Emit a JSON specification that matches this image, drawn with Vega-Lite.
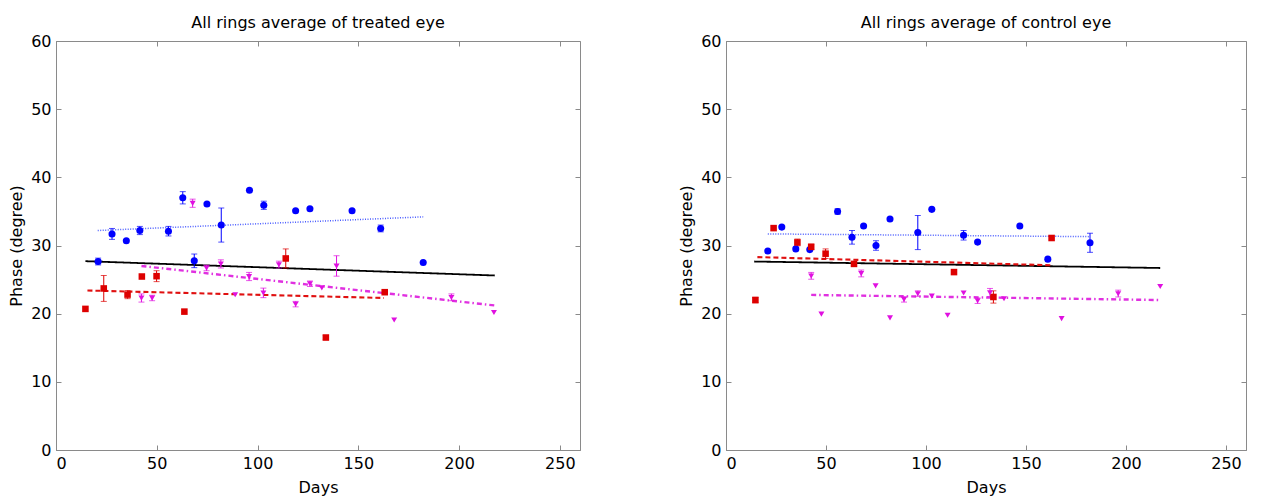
{
  "$schema": "https://vega.github.io/schema/vega-lite/v6.json",
  "background": "white",
  "padding": {"left": 8, "top": 14, "right": 20, "bottom": 2},
  "spacing": 97,
  "config": {
    "font": "DejaVu Sans",
    "view": {"stroke": "#8a8a8a", "strokeWidth": 1},
    "axis": {"grid": false, "domainColor": "#8a8a8a", "tickColor": "#8a8a8a", "tickSize": -5, "labelPadding": 10, "labelFontSize": 16, "labelColor": "black", "titleFontSize": 16, "titleFontWeight": "normal", "titleColor": "black", "labelFont": "DejaVu Sans", "titleFont": "DejaVu Sans"},
    "title": {"fontSize": 16, "fontWeight": "normal", "font": "DejaVu Sans", "color": "black", "offset": 2}
  },
  "datasets": {
    "pts": [
      {"panel": "T", "g": "B", "day": 20.9, "phase": 27.65, "lo": 27.15, "hi": 28.15},
      {"panel": "T", "g": "B", "day": 27.8, "phase": 31.7, "lo": 30.9, "hi": 32.5},
      {"panel": "T", "g": "B", "day": 34.9, "phase": 30.7, "lo": null, "hi": null},
      {"panel": "T", "g": "B", "day": 41.6, "phase": 32.2, "lo": 31.6, "hi": 32.8},
      {"panel": "T", "g": "B", "day": 55.8, "phase": 32.1, "lo": 31.4, "hi": 32.8},
      {"panel": "T", "g": "B", "day": 62.9, "phase": 37.0, "lo": 36.1, "hi": 37.9},
      {"panel": "T", "g": "B", "day": 68.6, "phase": 27.75, "lo": 26.75, "hi": 28.75},
      {"panel": "T", "g": "B", "day": 74.9, "phase": 36.1, "lo": null, "hi": null},
      {"panel": "T", "g": "B", "day": 82.0, "phase": 33.0, "lo": 30.5, "hi": 35.5},
      {"panel": "T", "g": "B", "day": 96.0, "phase": 38.1, "lo": null, "hi": null},
      {"panel": "T", "g": "B", "day": 103.1, "phase": 35.9, "lo": 35.3, "hi": 36.5},
      {"panel": "T", "g": "B", "day": 118.9, "phase": 35.1, "lo": null, "hi": null},
      {"panel": "T", "g": "B", "day": 126.0, "phase": 35.4, "lo": null, "hi": null},
      {"panel": "T", "g": "B", "day": 146.9, "phase": 35.1, "lo": null, "hi": null},
      {"panel": "T", "g": "B", "day": 161.1, "phase": 32.5, "lo": 32.0, "hi": 33.0},
      {"panel": "T", "g": "B", "day": 182.2, "phase": 27.5, "lo": null, "hi": null},
      {"panel": "T", "g": "R", "day": 14.6, "phase": 20.7, "lo": null, "hi": null},
      {"panel": "T", "g": "R", "day": 23.7, "phase": 23.7, "lo": 21.8, "hi": 25.6},
      {"panel": "T", "g": "R", "day": 35.5, "phase": 22.8, "lo": 22.2, "hi": 23.4},
      {"panel": "T", "g": "R", "day": 42.6, "phase": 25.45, "lo": null, "hi": null},
      {"panel": "T", "g": "R", "day": 49.9, "phase": 25.5, "lo": 24.7, "hi": 26.3},
      {"panel": "T", "g": "R", "day": 63.7, "phase": 20.3, "lo": null, "hi": null},
      {"panel": "T", "g": "R", "day": 114.0, "phase": 28.1, "lo": 26.7, "hi": 29.5},
      {"panel": "T", "g": "R", "day": 133.9, "phase": 16.5, "lo": 16.2, "hi": 16.8},
      {"panel": "T", "g": "R", "day": 163.1, "phase": 23.15, "lo": null, "hi": null},
      {"panel": "T", "g": "M", "day": 42.4, "phase": 22.3, "lo": 21.7, "hi": 22.9},
      {"panel": "T", "g": "M", "day": 47.7, "phase": 22.3, "lo": 21.9, "hi": 22.7},
      {"panel": "T", "g": "M", "day": 67.8, "phase": 36.2, "lo": 35.6, "hi": 36.8},
      {"panel": "T", "g": "M", "day": 74.7, "phase": 26.7, "lo": 26.3, "hi": 27.1},
      {"panel": "T", "g": "M", "day": 81.8, "phase": 27.3, "lo": 26.7, "hi": 27.9},
      {"panel": "T", "g": "M", "day": 88.9, "phase": 22.8, "lo": null, "hi": null},
      {"panel": "T", "g": "M", "day": 95.8, "phase": 25.45, "lo": 24.85, "hi": 26.05},
      {"panel": "T", "g": "M", "day": 102.9, "phase": 23.05, "lo": 22.35, "hi": 23.75},
      {"panel": "T", "g": "M", "day": 110.6, "phase": 27.2, "lo": 26.7, "hi": 27.7},
      {"panel": "T", "g": "M", "day": 118.9, "phase": 21.4, "lo": 21.0, "hi": 21.8},
      {"panel": "T", "g": "M", "day": 126.0, "phase": 24.4, "lo": 24.0, "hi": 24.8},
      {"panel": "T", "g": "M", "day": 131.9, "phase": 23.8, "lo": null, "hi": null},
      {"panel": "T", "g": "M", "day": 139.2, "phase": 27.0, "lo": 25.5, "hi": 28.5},
      {"panel": "T", "g": "M", "day": 167.8, "phase": 19.1, "lo": null, "hi": null},
      {"panel": "T", "g": "M", "day": 196.2, "phase": 22.4, "lo": 21.9, "hi": 22.9},
      {"panel": "T", "g": "M", "day": 217.3, "phase": 20.2, "lo": null, "hi": null},
      {"panel": "C", "g": "B", "day": 20.9, "phase": 29.2, "lo": null, "hi": null},
      {"panel": "C", "g": "B", "day": 27.9, "phase": 32.7, "lo": null, "hi": null},
      {"panel": "C", "g": "B", "day": 34.9, "phase": 29.5, "lo": null, "hi": null},
      {"panel": "C", "g": "B", "day": 41.9, "phase": 29.4, "lo": null, "hi": null},
      {"panel": "C", "g": "B", "day": 55.8, "phase": 35.0, "lo": 34.6, "hi": 35.4},
      {"panel": "C", "g": "B", "day": 63.0, "phase": 31.2, "lo": 30.2, "hi": 32.2},
      {"panel": "C", "g": "B", "day": 68.8, "phase": 32.85, "lo": null, "hi": null},
      {"panel": "C", "g": "B", "day": 75.0, "phase": 30.0, "lo": 29.3, "hi": 30.7},
      {"panel": "C", "g": "B", "day": 82.0, "phase": 33.9, "lo": null, "hi": null},
      {"panel": "C", "g": "B", "day": 95.9, "phase": 31.9, "lo": 29.4, "hi": 34.4},
      {"panel": "C", "g": "B", "day": 102.9, "phase": 35.3, "lo": null, "hi": null},
      {"panel": "C", "g": "B", "day": 118.8, "phase": 31.5, "lo": 30.8, "hi": 32.2},
      {"panel": "C", "g": "B", "day": 125.8, "phase": 30.5, "lo": null, "hi": null},
      {"panel": "C", "g": "B", "day": 146.9, "phase": 32.85, "lo": null, "hi": null},
      {"panel": "C", "g": "B", "day": 160.9, "phase": 28.0, "lo": null, "hi": null},
      {"panel": "C", "g": "B", "day": 182.0, "phase": 30.4, "lo": 29.0, "hi": 31.8},
      {"panel": "C", "g": "R", "day": 14.7, "phase": 22.0, "lo": 21.6, "hi": 22.4},
      {"panel": "C", "g": "R", "day": 23.8, "phase": 32.55, "lo": null, "hi": null},
      {"panel": "C", "g": "R", "day": 35.7, "phase": 30.45, "lo": 29.95, "hi": 30.95},
      {"panel": "C", "g": "R", "day": 42.6, "phase": 29.8, "lo": 29.4, "hi": 30.2},
      {"panel": "C", "g": "R", "day": 49.8, "phase": 28.8, "lo": 28.1, "hi": 29.5},
      {"panel": "C", "g": "R", "day": 64.0, "phase": 27.3, "lo": 27.0, "hi": 27.6},
      {"panel": "C", "g": "R", "day": 114.0, "phase": 26.1, "lo": null, "hi": null},
      {"panel": "C", "g": "R", "day": 133.7, "phase": 22.45, "lo": 21.55, "hi": 23.35},
      {"panel": "C", "g": "R", "day": 162.8, "phase": 31.1, "lo": null, "hi": null},
      {"panel": "C", "g": "M", "day": 42.6, "phase": 25.55, "lo": 25.05, "hi": 26.05},
      {"panel": "C", "g": "M", "day": 47.7, "phase": 19.95, "lo": null, "hi": null},
      {"panel": "C", "g": "M", "day": 67.6, "phase": 25.9, "lo": 25.4, "hi": 26.4},
      {"panel": "C", "g": "M", "day": 74.8, "phase": 24.1, "lo": null, "hi": null},
      {"panel": "C", "g": "M", "day": 82.0, "phase": 19.4, "lo": null, "hi": null},
      {"panel": "C", "g": "M", "day": 89.0, "phase": 22.1, "lo": 21.7, "hi": 22.5},
      {"panel": "C", "g": "M", "day": 95.9, "phase": 22.95, "lo": 22.55, "hi": 23.35},
      {"panel": "C", "g": "M", "day": 102.9, "phase": 22.6, "lo": null, "hi": null},
      {"panel": "C", "g": "M", "day": 110.8, "phase": 19.8, "lo": null, "hi": null},
      {"panel": "C", "g": "M", "day": 118.8, "phase": 23.05, "lo": null, "hi": null},
      {"panel": "C", "g": "M", "day": 125.8, "phase": 21.9, "lo": 21.5, "hi": 22.3},
      {"panel": "C", "g": "M", "day": 132.0, "phase": 23.1, "lo": 22.5, "hi": 23.7},
      {"panel": "C", "g": "M", "day": 139.0, "phase": 22.2, "lo": null, "hi": null},
      {"panel": "C", "g": "M", "day": 167.8, "phase": 19.3, "lo": null, "hi": null},
      {"panel": "C", "g": "M", "day": 196.1, "phase": 22.95, "lo": 22.45, "hi": 23.45},
      {"panel": "C", "g": "M", "day": 217.1, "phase": 24.0, "lo": null, "hi": null}
    ],
    "fits": [
      {"panel": "T", "g": "BF", "day": 20.7, "phase": 32.2},
      {"panel": "T", "g": "BF", "day": 182.2, "phase": 34.2},
      {"panel": "T", "g": "K", "day": 14.6, "phase": 27.7},
      {"panel": "T", "g": "K", "day": 217.7, "phase": 25.6},
      {"panel": "T", "g": "RF", "day": 15.6, "phase": 23.4},
      {"panel": "T", "g": "RF", "day": 162.7, "phase": 22.3},
      {"panel": "T", "g": "MF", "day": 42.4, "phase": 27.0},
      {"panel": "T", "g": "MF", "day": 217.7, "phase": 21.2},
      {"panel": "C", "g": "BF", "day": 20.9, "phase": 31.7},
      {"panel": "C", "g": "BF", "day": 182.0, "phase": 31.3},
      {"panel": "C", "g": "K", "day": 14.1, "phase": 27.65},
      {"panel": "C", "g": "K", "day": 217.1, "phase": 26.7},
      {"panel": "C", "g": "RF", "day": 15.7, "phase": 28.3},
      {"panel": "C", "g": "RF", "day": 162.8, "phase": 27.1},
      {"panel": "C", "g": "MF", "day": 42.6, "phase": 22.75},
      {"panel": "C", "g": "MF", "day": 217.1, "phase": 22.0}
    ]
  },
  "hconcat": [
    {
      "title": "All rings average of treated eye",
      "width": 524,
      "height": 409,
      "layer": [
        {
          "data": {"name": "fits"},
          "transform": [{"filter": "datum.panel === 'T'"}],
          "mark": {"type": "line"},
          "encoding": {
            "x": {"field": "day", "type": "quantitative", "scale": {"domain": [0, 250]}, "axis": {"title": "Days", "values": [0, 50, 100, 150, 200, 250], "titlePadding": 8}},
            "y": {"field": "phase", "type": "quantitative", "scale": {"domain": [0, 60]}, "axis": {"title": "Phase (degree)", "values": [0, 10, 20, 30, 40, 50, 60], "titlePadding": 6}},
            "detail": {"field": "g"},
            "color": {"field": "g", "type": "nominal", "scale": {"domain": ["B", "R", "M", "BF", "K", "RF", "MF"], "range": ["#0000ff", "#dd0000", "#e010e0", "#4a5cff", "#000000", "#e01010", "#e030e0"]}, "legend": null},
            "strokeDash": {"field": "g", "type": "nominal", "scale": {"domain": ["BF", "K", "RF", "MF"], "range": [[1, 1.5], [1, 0], [5, 3], [5, 3, 1.5, 3]]}, "legend": null},
            "strokeWidth": {"field": "g", "type": "nominal", "scale": {"domain": ["BF", "K", "RF", "MF"], "range": [1.5, 2.4, 2.2, 2]}, "legend": null}
          }
        },
        {
          "data": {"name": "pts"},
          "transform": [{"filter": "datum.panel === 'T' && datum.lo != null"}],
          "mark": {"type": "errorbar", "ticks": {"size": 6}, "thickness": 1},
          "encoding": {
            "x": {"field": "day", "type": "quantitative", "axis": null},
            "y": {"field": "lo", "type": "quantitative", "axis": null},
            "y2": {"field": "hi"},
            "color": {"field": "g", "type": "nominal", "scale": {"domain": ["B", "R", "M", "BF", "K", "RF", "MF"], "range": ["#0000ff", "#dd0000", "#e010e0", "#4a5cff", "#000000", "#e01010", "#e030e0"]}, "legend": null}
          }
        },
        {
          "data": {"name": "pts"},
          "transform": [{"filter": "datum.panel === 'T'"}],
          "mark": {"type": "point", "filled": true, "opacity": 1},
          "encoding": {
            "x": {"field": "day", "type": "quantitative", "axis": null},
            "y": {"field": "phase", "type": "quantitative", "axis": null},
            "shape": {"field": "g", "type": "nominal", "scale": {"domain": ["B", "R", "M"], "range": ["circle", "square", "M-1,-0.8L1,-0.8L0,0.9Z"]}, "legend": null},
            "size": {"field": "g", "type": "nominal", "scale": {"domain": ["B", "R", "M"], "range": [50, 36, 72]}, "legend": null},
            "color": {"field": "g", "type": "nominal", "scale": {"domain": ["B", "R", "M", "BF", "K", "RF", "MF"], "range": ["#0000ff", "#dd0000", "#e010e0", "#4a5cff", "#000000", "#e01010", "#e030e0"]}, "legend": null}
          }
        },
        {
          "data": {"name": "fits"},
          "transform": [{"filter": "datum.panel === 'T'"}],
          "mark": {"type": "point", "opacity": 0},
          "encoding": {
            "x": {"field": "day", "type": "quantitative", "axis": {"orient": "top", "labels": false, "title": null, "domain": false, "values": [0, 50, 100, 150, 200, 250]}},
            "y": {"field": "phase", "type": "quantitative", "axis": {"orient": "right", "labels": false, "title": null, "domain": false, "values": [0, 10, 20, 30, 40, 50, 60]}}
          }
        }
      ],
      "resolve": {"axis": {"x": "independent", "y": "independent"}}
    },
    {
      "title": "All rings average of control eye",
      "width": 520,
      "height": 409,
      "layer": [
        {
          "data": {"name": "fits"},
          "transform": [{"filter": "datum.panel === 'C'"}],
          "mark": {"type": "line"},
          "encoding": {
            "x": {"field": "day", "type": "quantitative", "scale": {"domain": [0, 250]}, "axis": {"title": "Days", "values": [0, 50, 100, 150, 200, 250], "titlePadding": 8}},
            "y": {"field": "phase", "type": "quantitative", "scale": {"domain": [0, 60]}, "axis": {"title": "Phase (degree)", "values": [0, 10, 20, 30, 40, 50, 60], "titlePadding": 6}},
            "detail": {"field": "g"},
            "color": {"field": "g", "type": "nominal", "scale": {"domain": ["B", "R", "M", "BF", "K", "RF", "MF"], "range": ["#0000ff", "#dd0000", "#e010e0", "#4a5cff", "#000000", "#e01010", "#e030e0"]}, "legend": null},
            "strokeDash": {"field": "g", "type": "nominal", "scale": {"domain": ["BF", "K", "RF", "MF"], "range": [[1, 1.5], [1, 0], [5, 3], [5, 3, 1.5, 3]]}, "legend": null},
            "strokeWidth": {"field": "g", "type": "nominal", "scale": {"domain": ["BF", "K", "RF", "MF"], "range": [1.5, 2.4, 2.2, 2]}, "legend": null}
          }
        },
        {
          "data": {"name": "pts"},
          "transform": [{"filter": "datum.panel === 'C' && datum.lo != null"}],
          "mark": {"type": "errorbar", "ticks": {"size": 6}, "thickness": 1},
          "encoding": {
            "x": {"field": "day", "type": "quantitative", "axis": null},
            "y": {"field": "lo", "type": "quantitative", "axis": null},
            "y2": {"field": "hi"},
            "color": {"field": "g", "type": "nominal", "scale": {"domain": ["B", "R", "M", "BF", "K", "RF", "MF"], "range": ["#0000ff", "#dd0000", "#e010e0", "#4a5cff", "#000000", "#e01010", "#e030e0"]}, "legend": null}
          }
        },
        {
          "data": {"name": "pts"},
          "transform": [{"filter": "datum.panel === 'C'"}],
          "mark": {"type": "point", "filled": true, "opacity": 1},
          "encoding": {
            "x": {"field": "day", "type": "quantitative", "axis": null},
            "y": {"field": "phase", "type": "quantitative", "axis": null},
            "shape": {"field": "g", "type": "nominal", "scale": {"domain": ["B", "R", "M"], "range": ["circle", "square", "M-1,-0.8L1,-0.8L0,0.9Z"]}, "legend": null},
            "size": {"field": "g", "type": "nominal", "scale": {"domain": ["B", "R", "M"], "range": [50, 36, 72]}, "legend": null},
            "color": {"field": "g", "type": "nominal", "scale": {"domain": ["B", "R", "M", "BF", "K", "RF", "MF"], "range": ["#0000ff", "#dd0000", "#e010e0", "#4a5cff", "#000000", "#e01010", "#e030e0"]}, "legend": null}
          }
        },
        {
          "data": {"name": "fits"},
          "transform": [{"filter": "datum.panel === 'C'"}],
          "mark": {"type": "point", "opacity": 0},
          "encoding": {
            "x": {"field": "day", "type": "quantitative", "axis": {"orient": "top", "labels": false, "title": null, "domain": false, "values": [0, 50, 100, 150, 200, 250]}},
            "y": {"field": "phase", "type": "quantitative", "axis": {"orient": "right", "labels": false, "title": null, "domain": false, "values": [0, 10, 20, 30, 40, 50, 60]}}
          }
        }
      ],
      "resolve": {"axis": {"x": "independent", "y": "independent"}}
    }
  ]
}
